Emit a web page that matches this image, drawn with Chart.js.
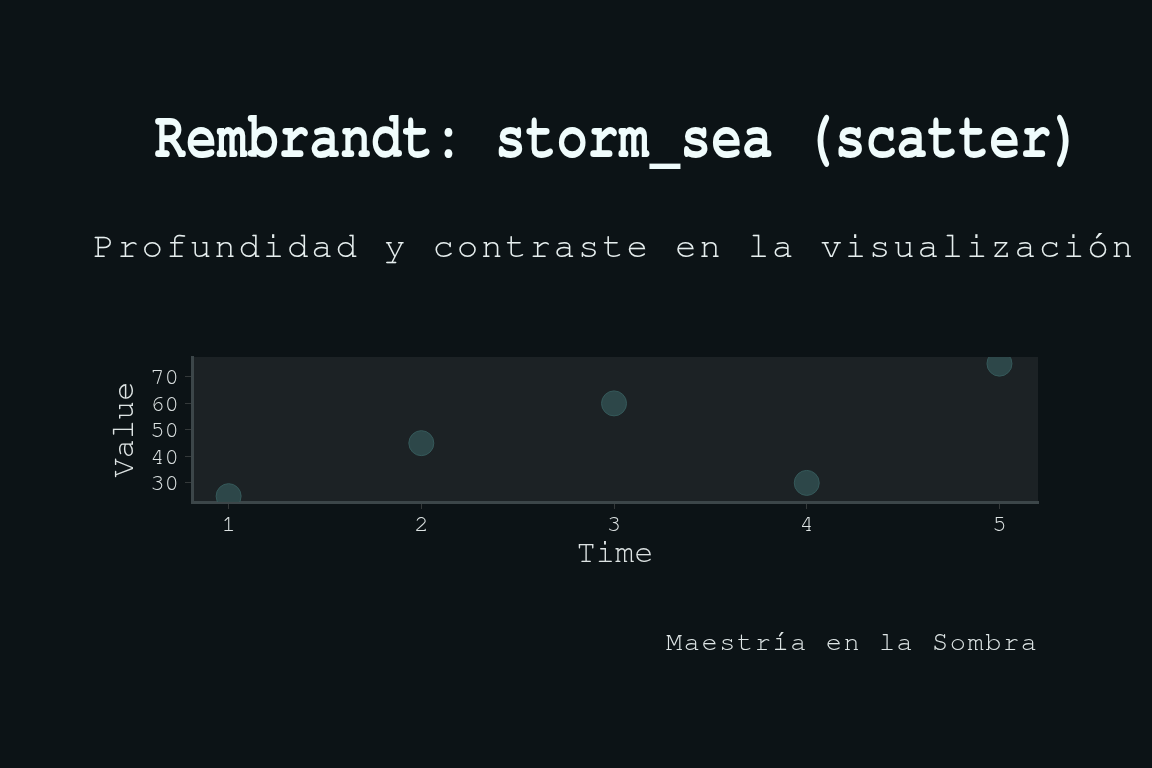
<!DOCTYPE html>
<html>
<head>
<meta charset="utf-8">
<script src="https://cdn.jsdelivr.net/npm/chart.js@4/dist/chart.umd.min.js"></script>
<style>
  html, body { margin: 0; padding: 0; background: #0c1316; }
  #wrap { position: relative; width: 1152px; height: 768px; overflow: hidden; background: #0c1316; }
  #c { position: absolute; left: 0; top: 0; }
  .t { position: absolute; white-space: nowrap; font-family: "Nimbus Mono PS", "Nimbus Mono L", "FreeMono", "Courier 10 Pitch", "Liberation Mono", monospace; line-height: 1; transform-origin: 0 0; }
  #title { font-size: 67px; font-weight: bold; color: #f0fcfc; left: 155px; top: 103px; }
  #subtitle { font-size: 36px; color: #e6eeee; left: 93px; top: 228px; }
  #note { font-size: 27px; color: #dfe6e6; left: 666px; top: 628px; }
</style>
</head>
<body>
<div id="wrap">
  <canvas id="c" width="1152" height="768"></canvas>
  <div class="t" id="title">Rembrandt: storm_sea (scatter)</div>
  <div class="t" id="subtitle">Profundidad y contraste en la visualización</div>
  <div class="t" id="note">Maestría en la Sombra</div>
</div>
<script>
const timeValues = [1, 2, 3, 4, 5];
const seriesValues = [25, 45, 60, 30, 75];
const xTickLabels = ['1', '2', '3', '4', '5'];
const yTickLabels = ['30', '40', '50', '60', '70'];
const xAxisTitle = 'Time';
const yAxisTitle = 'Value';

// fit header texts to the reference widths
function fitScale(el, width) {
  const w = el.getBoundingClientRect().width;
  el.style.transform = 'scaleX(' + (width / w) + ')';
}
function fitSpacing(el, width) {
  el.style.letterSpacing = '0px';
  const w = el.getBoundingClientRect().width;
  const n = el.textContent.length;
  el.style.letterSpacing = ((width - w) / (n - 1)) + 'px';
}
fitScale(document.getElementById('title'), 927);
fitSpacing(document.getElementById('subtitle'), 1040);
fitSpacing(document.getElementById('note'), 371);

const points = timeValues.map((t, i) => ({ x: t, y: seriesValues[i] }));

const bgPlugin = {
  id: 'plotBg',
  beforeDraw(chart) {
    const { ctx, chartArea: a } = chart;
    ctx.save();
    ctx.fillStyle = '#1c2225';
    ctx.fillRect(a.left, a.top, a.right - a.left, a.bottom - a.top);
    ctx.restore();
  }
};

const textColor = '#dde3e3';
const fontFam = '"Nimbus Mono PS", "Nimbus Mono L", "FreeMono", "Courier 10 Pitch", "Liberation Mono", monospace';

new Chart(document.getElementById('c'), {
  type: 'scatter',
  data: {
    datasets: [{
      data: points,
      backgroundColor: 'rgba(46, 74, 75, 0.95)',
      borderColor: '#35595a',
      borderWidth: 1,
      pointRadius: 12.5,
      pointHoverRadius: 12.5
    }]
  },
  options: {
    responsive: false,
    animation: false,
    events: [],
    layout: { padding: { left: 92, top: 357, right: 114, bottom: 196 } },
    plugins: { legend: { display: false }, tooltip: { enabled: false }, title: { display: false } },
    scales: {
      x: {
        type: 'linear',
        min: 0.81,
        max: 5.2,
        afterFit(s) { s.height = 70; },
        ticks: {
          stepSize: 1,
          includeBounds: false,
          color: textColor,
          padding: 0,
          font: { family: fontFam, size: 24 },
          callback: (v) => { const i = timeValues.indexOf(v); return i >= 0 ? xTickLabels[i] : ''; }
        },
        grid: { drawOnChartArea: false, color: '#34393a', tickLength: 7, tickWidth: 1 },
        border: { display: true, color: '#3c4649', width: 3 },
        title: { display: true, text: xAxisTitle, color: textColor, font: { family: fontFam, size: 32 }, padding: { top: 0, bottom: 0 } }
      },
      y: {
        type: 'linear',
        min: 22.8,
        max: 77.5,
        afterFit(s) { s.width = 100; },
        ticks: {
          stepSize: 10,
          includeBounds: false,
          color: textColor,
          padding: 6,
          font: { family: fontFam, size: 24 },
          callback: (v) => { const i = yTickLabels.indexOf(String(v)); return i >= 0 ? yTickLabels[i] : ''; }
        },
        grid: { drawOnChartArea: false, color: '#34393a', tickLength: 7, tickWidth: 1 },
        border: { display: true, color: '#3c4649', width: 3 },
        title: { display: true, text: yAxisTitle, color: textColor, font: { family: fontFam, size: 32 }, padding: { top: 12, bottom: 0 } }
      }
    }
  },
  plugins: [bgPlugin]
});
</script>
</body>
</html>
